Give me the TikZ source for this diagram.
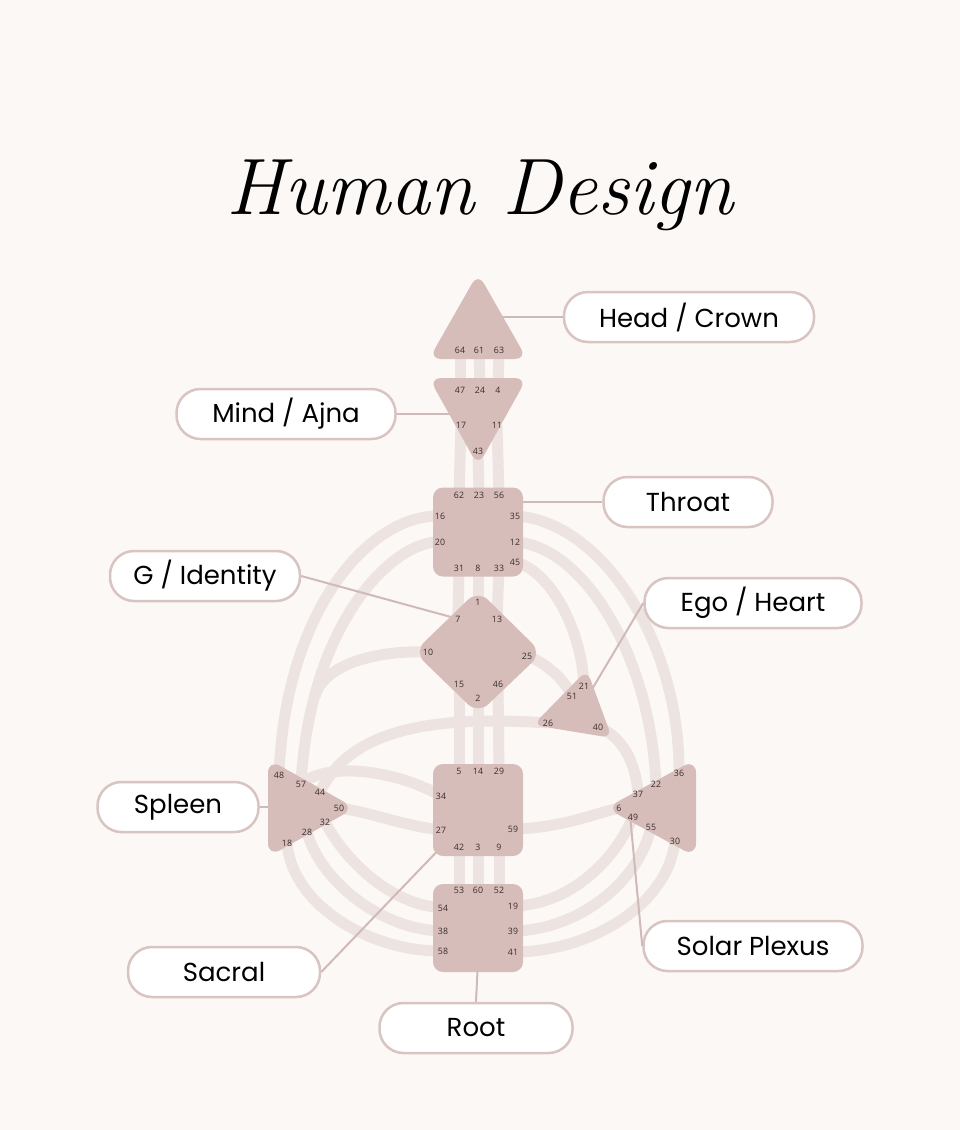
\documentclass[tikz,border=0pt]{standalone}
\usepackage{fontspec}
\newfontfamily\lblfont{Poppins}
\newfontfamily\gatefont{Open Sans}
\definecolor{bgcol}{RGB}{252,248,246}
\definecolor{ctrcol}{RGB}{214,189,186}
\definecolor{chancol}{RGB}{237,227,225}
\definecolor{lblcol}{RGB}{216,196,193}
\definecolor{leadcol}{RGB}{208,186,183}
\definecolor{gatecol}{RGB}{58,44,43}

\begin{document}
\begin{tikzpicture}[x=1pt, y=-1pt,
    chan/.style={draw=chancol, line width=11pt},
    ctr/.style={fill=ctrcol, rounded corners=12pt},
    box/.style={rectangle, fill=ctrcol, rounded corners=10pt, minimum width=90pt, inner sep=0pt},
    gate/.style={font=\gatefont\fontsize{8.8}{9}\selectfont, text=gatecol, inner sep=0pt},
    lbl/.style={draw=lblcol, line width=2.5pt, fill=white, rounded corners=24pt,
      minimum height=50pt, font=\lblfont\fontsize{26}{30}\selectfont, text=black},
    lead/.style={draw=leadcol, line width=2pt}]
    %Hintergrund
    \fill[bgcol] (0,0) rectangle (960,1130);
    \useasboundingbox (0,0) rectangle (960,1130);
    %Titel
    \node[font=\fontsize{80}{90}\selectfont\itshape] (title) at (480,195) {Human Design};
    %Tore (Positionen)
    \foreach \g/\x/\y in {64/460/350, 61/479/350, 63/499/350,
        47/460/390, 24/480/390, 4/498/390, 17/461/425, 11/497/425, 43/478/451,
        62/459/495, 23/479/495, 56/499/495, 16/440/516, 35/515/516, 20/440/542,
        12/515/542, 31/459/568, 8/478/568, 33/499/568, 45/515/562,
        1/478/602, 7/458/619, 13/497/619, 10/428/652, 25/527/656, 15/459/684, 46/498/684, 2/478/698,
        21/584/686, 51/572/696, 26/548/723, 40/598/727,
        5/459/771, 14/478/771, 29/499/771, 34/441/796, 27/441/830, 59/513/829, 42/459/847, 3/478/847, 9/499/847,
        48/279/775, 57/301/784, 44/320/792, 50/339/808, 32/325/822, 28/307/832, 18/287/843,
        36/679/773, 22/656/784, 37/638/794, 6/619/808, 49/633/817, 55/651/827, 30/675/841,
        53/459/890, 60/478/890, 52/499/890, 54/443/908, 19/513/906, 38/443/931, 39/513/931, 58/443/951, 41/513/952}
        \coordinate (g\g) at (\x,\y);
    \coordinate (j10) at (315,696);  %Einmuendung 10
    %Kanaele senkrecht
    \foreach \a/\b in {64/47, 61/24, 63/4, 17/62, 43/23, 11/56, 31/7, 8/1, 33/13,
        15/5, 2/14, 46/29, 42/53, 3/60, 9/52}
        \draw[chan] (g\a) -- (g\b);
    %Kanaele links
    \draw[chan] (g16) .. controls (370,514) and (285,610) .. (g48);
    \draw[chan] (g20) .. controls (395,540) and (310,620) .. (g57);
    \draw[chan] (g10) .. controls (370,650) and (323,667) .. (j10);
    \draw[chan] (g34) .. controls (400,772) and (330,760) .. (g57);
    \draw[chan] (g26) .. controls (430,715) and (350,730) .. (g44);
    \draw[chan] (g27) .. controls (400,825) and (370,812) .. (g50);
    \draw[chan] (g32) .. controls (345,860) and (390,905) .. (g54);
    \draw[chan] (g28) .. controls (320,880) and (380,930) .. (g38);
    \draw[chan] (g18) .. controls (292,905) and (370,952) .. (g58);
    %Kanaele rechts
    \draw[chan] (g35) .. controls (600,520) and (680,640) .. (g36);
    \draw[chan] (g12) .. controls (580,545) and (650,650) .. (g22);
    \draw[chan] (g45) .. controls (550,570) and (582,630) .. (g21);
    \draw[chan] (g25) .. controls (545,662) and (565,680) .. (g51);
    \draw[chan] (g40) .. controls (620,735) and (636,760) .. (g37);
    \draw[chan] (g59) .. controls (560,828) and (590,815) .. (g6);
    \draw[chan] (g49) .. controls (615,860) and (570,905) .. (g19);
    \draw[chan] (g55) .. controls (640,880) and (580,930) .. (g39);
    \draw[chan] (g30) .. controls (668,905) and (590,952) .. (g41);
    %Beschriftung
    \node[lbl, minimum width=250pt] (lHead) at (689,317) {Head / Crown};
    \node[lbl, minimum width=219pt] (lAjna) at (286,414) {Mind / Ajna};
    \node[lbl, minimum width=169pt] (lThroat) at (688,502) {Throat};
    \node[lbl, minimum width=190pt] (lG) at (205,576) {G / Identity};
    \node[lbl, minimum width=217pt] (lEgo) at (753,603) {Ego / Heart};
    \node[lbl, minimum width=161pt] (lSpleen) at (178,807) {Spleen};
    \node[lbl, minimum width=192pt] (lSacral) at (224,972) {Sacral};
    \node[lbl, minimum width=193pt] (lRoot) at (476,1028) {Root};
    \node[lbl, minimum width=219pt] (lSolar) at (753,946) {Solar Plexus};
    %Hinweislinien
    \coordinate (hHead) at (500,317);
    \coordinate (hAjna) at (460,414);
    \coordinate (hThroat) at (510,502);
    \coordinate (hG) at (462,620);
    \coordinate (hEgo) at (588,696);
    \coordinate (hSpleen) at (285,807);
    \coordinate (hSacral) at (448,840);
    \coordinate (hRoot) at (478,960);
    \coordinate (hSolar) at (630,815);
    \draw[lead] (lHead.west) -- (hHead);
    \draw[lead] (lAjna.east) -- (hAjna);
    \draw[lead] (lThroat.west) -- (hThroat);
    \draw[lead] (lG.east) -- (hG);
    \draw[lead] (lEgo.west) -- (hEgo);
    \draw[lead] (lSpleen.east) -- (hSpleen);
    \draw[lead] (lSacral.east) -- (hSacral);
    \draw[lead] (lRoot.north) -- (hRoot);
    \draw[lead] (lSolar.west) -- (hSolar);
    %Zentren
    \fill[ctr] (478,273) -- (527,359) -- (429,359) -- cycle;  %Kopf
    \fill[ctr] (429,378) -- (527,378) -- (478,466) -- cycle;  %Ajna
    \node[box, minimum height=89pt] (throat) at (478,532) {};
    \fill[ctr, rounded corners=14pt] (478,590) -- (542,653) -- (478,714) -- (414,652) -- cycle;  %G
    \fill[ctr, rounded corners=10pt] (587,670) -- (612,738) -- (533,725) -- cycle;  %Ego
    \node[box, minimum height=92pt] (sacral) at (478,810) {};
    \node[box, minimum height=88pt] (root) at (478,928) {};
    \fill[ctr, rounded corners=14pt] (268,759) -- (355,808) -- (268,857) -- cycle;  %Milz
    \fill[ctr, rounded corners=14pt] (696,759) -- (606,808) -- (696,857) -- cycle;  %Solarplexus
    %Tornummern
    \foreach \g in {64,61,63,47,24,4,17,11,43,62,23,56,16,35,20,12,31,8,33,45,
        1,7,13,10,25,15,46,2,21,51,26,40,5,14,29,34,27,59,42,3,9,
        48,57,44,50,32,28,18,36,22,37,6,49,55,30,53,60,52,54,19,38,39,58,41}
        \node[gate] (n\g) at (g\g) {\g};
\end{tikzpicture}
\end{document}
